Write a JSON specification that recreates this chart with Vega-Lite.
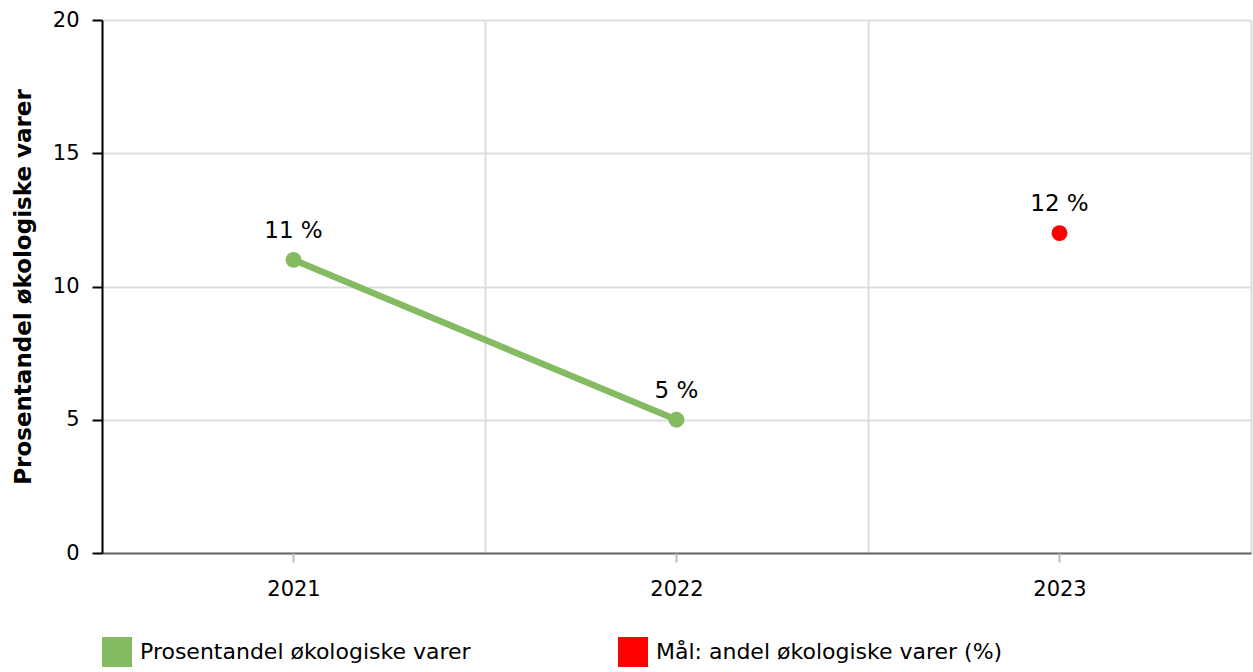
{
  "$schema": "https://vega.github.io/schema/vega-lite/v6.json",
  "width": 1149,
  "height": 533,
  "autosize": {"type": "none"},
  "padding": {"left": 102, "top": 20, "right": 2, "bottom": 119},
  "background": "white",
  "config": {
    "font": "DejaVu Sans",
    "view": {"stroke": null},
    "axis": {"labelFont": "DejaVu Sans", "titleFont": "DejaVu Sans", "labelColor": "#000000", "labelFontSize": 21, "gridColor": "#dddddd", "gridWidth": 2}
  },
  "data": {
    "values": [
      {"year": "2021", "value": 11, "series": "Prosentandel økologiske varer", "label": "11 %"},
      {"year": "2022", "value": 5, "series": "Prosentandel økologiske varer", "label": "5 %"},
      {"year": "2023", "value": 12, "series": "Mål: andel økologiske varer (%)", "label": "12 %"}
    ]
  },
  "encoding": {
    "y": {
      "field": "value", "type": "quantitative",
      "scale": {"domain": [0, 20], "nice": false},
      "axis": {"values": [0, 5, 10, 15, 20], "title": "Prosentandel økologiske varer", "titleFontSize": 23, "titleFontWeight": "bold", "titleColor": "#000000", "titlePadding": 17, "domainColor": "#000000", "domainWidth": 2, "tickColor": "#000000", "tickWidth": 2, "tickSize": 10, "labelPadding": 13, "labelFontSize": 21, "grid": true}
    },
    "color": {
      "field": "series", "type": "nominal",
      "scale": {"domain": ["Prosentandel økologiske varer", "Mål: andel økologiske varer (%)"], "range": ["#84BA62", "#FF0000"]},
      "legend": {"title": null, "orient": "none", "legendX": 0, "legendY": 617, "direction": "horizontal", "symbolType": "square", "symbolSize": 900, "symbolStrokeWidth": 0, "symbolOpacity": 1, "labelFontSize": 22, "labelColor": "#000000", "labelFont": "DejaVu Sans", "columnPadding": 147, "labelOffset": 8, "labelLimit": 600}
    }
  },
  "layer": [
    {
      "mark": {"type": "line", "strokeWidth": 6.5},
      "encoding": {
        "x": {"field": "year", "type": "ordinal", "scale": {"paddingInner": 0, "paddingOuter": 0},
          "axis": {"title": null, "labelAngle": 0, "tickBand": "extent", "ticks": false, "grid": true, "domainColor": "#666666", "domainWidth": 2, "labelPadding": 25, "labelFontSize": 21}}
      }
    },
    {
      "mark": {"type": "point", "filled": true, "size": 250, "opacity": 1},
      "encoding": {
        "x": {"field": "year", "type": "ordinal",
          "axis": {"title": null, "labels": false, "domain": false, "grid": false, "ticks": true, "tickColor": "#bbbbbb", "tickWidth": 2, "tickSize": 9, "orient": "bottom"}}
      }
    },
    {
      "mark": {"type": "text", "dy": -29, "fontSize": 23, "font": "DejaVu Sans", "color": "#000000"},
      "encoding": {
        "x": {"field": "year", "type": "ordinal", "axis": null},
        "text": {"field": "label"},
        "color": {"value": "#000000"}
      }
    }
  ],
  "resolve": {"axis": {"x": "independent"}}
}
